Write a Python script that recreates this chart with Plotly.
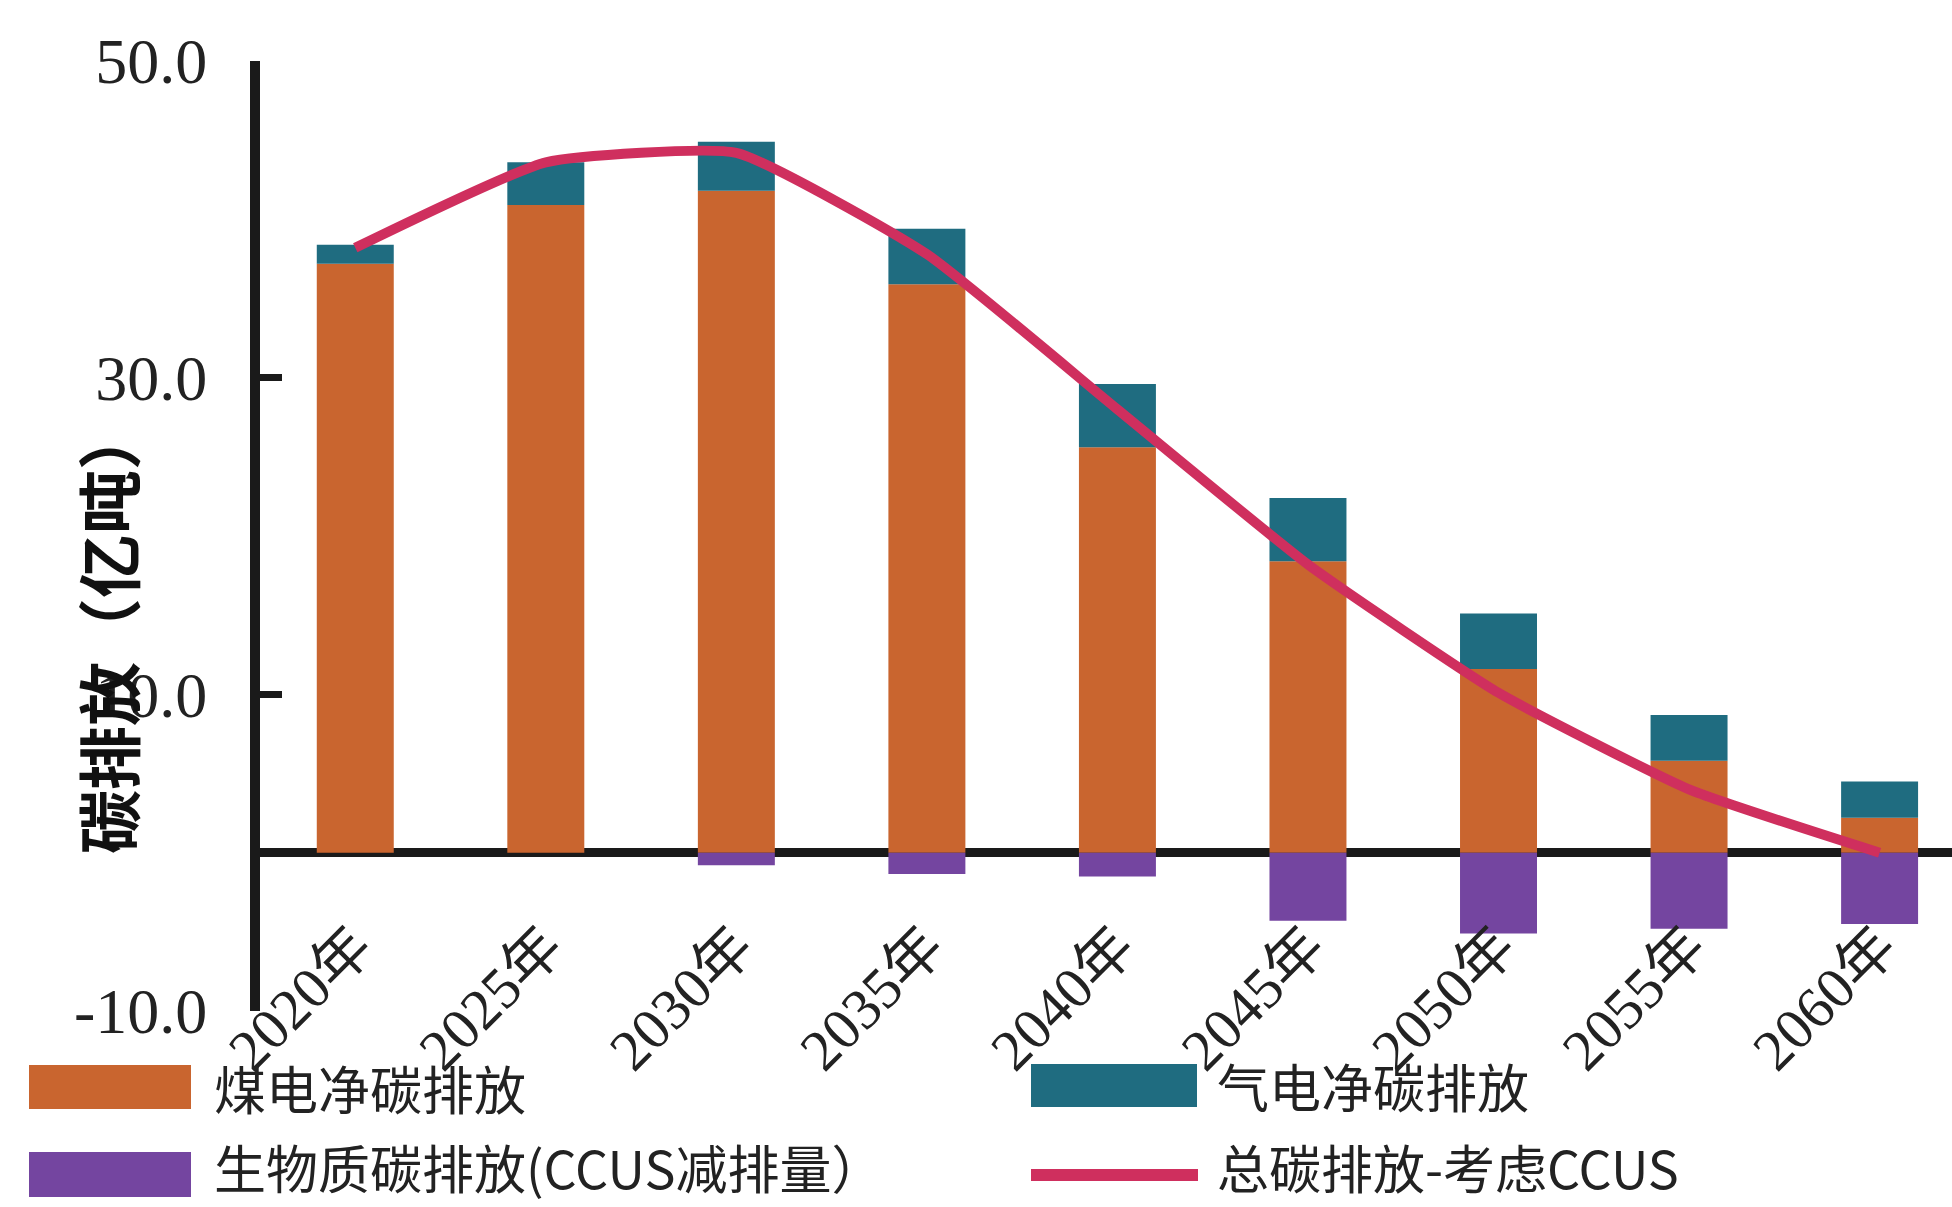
import plotly.graph_objects as go

# ---------------- data ----------------
years = ["2020年", "2025年", "2030年", "2035年", "2040年", "2045年", "2050年", "2055年", "2060年"]
coal_net = [37.2, 40.9, 41.8, 35.9, 25.6, 18.4, 11.6, 5.8, 2.2]      # 煤电净碳排放
gas_net = [1.2, 2.7, 3.1, 3.5, 4.0, 4.0, 3.5, 2.9, 2.3]              # 气电净碳排放
bio_ccus = [0.0, 0.0, -0.8, -1.35, -1.5, -4.3, -5.1, -4.8, -4.5]     # 生物质碳排放(CCUS减排量)
total_ccus = [38.2, 43.6, 44.2, 37.8, 28.0, 18.2, 10.1, 4.0, 0.0]    # 总碳排放-考虑CCUS
y_ticks = [-10, 10, 30, 50]

names = ["煤电净碳排放", "气电净碳排放", "生物质碳排放(CCUS减排量）", "总碳排放-考虑CCUS"]
colors = ["#C9652F", "#1F6C80", "#7445A0", "#CF2F5E"]

# ---------------- layout geometry (pixels) ----------------
W, H = 1952, 1207
L, R, T, B = 260, 0, 61, 196
PW, PH = W - L - R, H - T - B


def px_x(x):
    return (x - L) / PW


def px_y(y):
    return (H - B - y) / PH


CJK = "Noto Sans CJK SC"
SERIF = "Liberation Serif, 'Noto Sans CJK SC'"

fig = go.Figure()
fig.add_trace(go.Bar(x=years, y=coal_net, name=names[0], marker_color=colors[0],
                     marker_line_width=0, showlegend=False))
fig.add_trace(go.Bar(x=years, y=gas_net, name=names[1], marker_color=colors[1],
                     marker_line_width=0, showlegend=False))
fig.add_trace(go.Bar(x=years, y=bio_ccus, name=names[2], marker_color=colors[2],
                     marker_line_width=0, showlegend=False))
fig.add_trace(go.Scatter(x=years, y=total_ccus, name=names[3], mode="lines",
                         line=dict(color=colors[3], width=10, shape="spline", smoothing=0.45),
                         showlegend=False))

fig.update_layout(
    width=W, height=H,
    margin=dict(l=L, r=R, t=T, b=B, pad=0),
    paper_bgcolor="white", plot_bgcolor="white",
    barmode="relative", bargap=0.596,
    showlegend=False,
)

fig.update_xaxes(
    type="category", range=[-0.5, 8.38],
    showline=False, showgrid=False, zeroline=False, ticks="",
    tickangle=-45,
    tickfont=dict(family=SERIF, size=58, color="#222"),
    anchor="free", position=px_y(900),
)
fig.update_yaxes(
    range=[-10, 50], tickvals=y_ticks, ticktext=[f"{v:.1f}" for v in y_ticks],
    showgrid=False,
    showline=True, linecolor="#1a1a1a", linewidth=10,
    ticks="inside", ticklen=22, tickwidth=7, tickcolor="#1a1a1a",
    zeroline=True, zerolinecolor="#1a1a1a", zerolinewidth=9,
    tickfont=dict(family=SERIF, size=64, color="#222"),
    ticklabelstandoff=30,
)

# y-axis title
fig.add_annotation(
    text="<b>碳排放（亿吨）</b>", textangle=-90,
    xref="paper", yref="paper", x=px_x(106), y=px_y(630),
    xanchor="center", yanchor="middle", showarrow=False,
    font=dict(family=CJK, size=64, color="#111"),
)

# custom legend
legend_items = [
    ("rect", colors[0], names[0], 29, 191, 1065, 1109, 212),
    ("rect", colors[1], names[1], 1031, 1197, 1064, 1107, 1215),
    ("rect", colors[2], names[2], 29, 191, 1152, 1197, 212),
    ("line", colors[3], names[3], 1031, 1198, 1175, 1175, 1215),
]
for kind, col, label, x0, x1, y0, y1, tx in legend_items:
    if kind == "rect":
        fig.add_shape(type="rect", xref="paper", yref="paper",
                      x0=px_x(x0), x1=px_x(x1), y0=px_y(y1), y1=px_y(y0),
                      fillcolor=col, line_width=0)
    else:
        fig.add_shape(type="line", xref="paper", yref="paper",
                      x0=px_x(x0), x1=px_x(x1), y0=px_y(y0), y1=px_y(y1),
                      line=dict(color=col, width=12))
    ty = min((y0 + y1) / 2, 1166)
    fig.add_annotation(
        text=label, xref="paper", yref="paper",
        x=px_x(tx), y=px_y(ty), xanchor="left", yanchor="middle",
        showarrow=False, font=dict(family=CJK, size=52, color="#222"),
    )

fig.write_html("out.html")
